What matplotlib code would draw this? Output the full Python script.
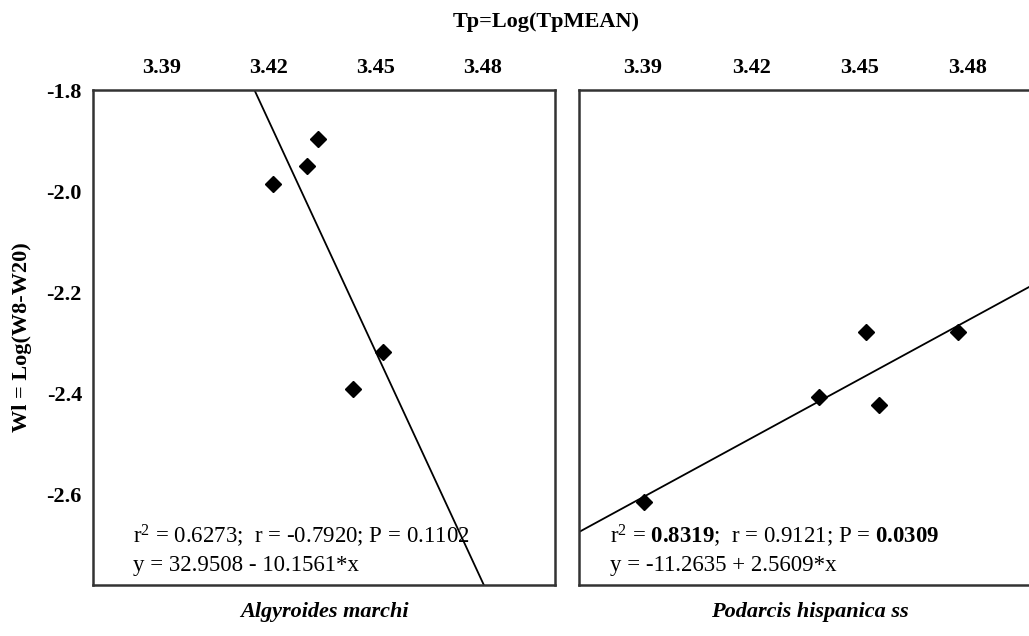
import numpy as np
import matplotlib
matplotlib.use("Agg")
import matplotlib.pyplot as plt

# Datos
x_alg = [3.4211, 3.4307, 3.4337, 3.4436, 3.4520]
y_alg = [-1.986, -1.950, -1.897, -2.392, -2.319]
x_pod = [3.3903, 3.4388, 3.4517, 3.4553, 3.4772]
y_pod = [-2.616, -2.408, -2.279, -2.424, -2.279]

xticks = [3.39, 3.42, 3.45, 3.48]
yticks = [-1.8, -2.0, -2.2, -2.4, -2.6]

species = ["Algyroides marchi", "Podarcis hispanica ss"]
stats = [r"$\mathrm{r}^2$ = 0.6273;  r = -0.7920; P = 0.1102",
         r"$\mathrm{r}^2$ = $\mathbf{0.8319}$;  r = 0.9121; P = $\mathbf{0.0309}$"]
eqs = ["y = 32.9508 - 10.1561*x", "y = -11.2635 + 2.5609*x"]

plt.rcParams['font.family'] = 'Liberation Serif'
plt.rcParams['mathtext.fontset'] = 'custom'
plt.rcParams['mathtext.rm'] = 'Liberation Serif'
plt.rcParams['mathtext.it'] = 'Liberation Serif:italic'
plt.rcParams['mathtext.bf'] = 'Liberation Serif:bold'

fig = plt.figure(figsize=(10.29, 6.36), dpi=100)

def panel(rect, xs, ys, xlim, stat, eq, name, text_x, show_y):
    ax = fig.add_axes(rect)
    ax.plot(xs, ys, linestyle='none', marker='D', color='black', markersize=8.5)

    # Recta de regresion
    m, b = np.polyfit(xs, ys, 1)
    xl = np.array([3.30, 3.60])
    ax.plot(xl, m * xl + b, color='black', linewidth=1.3)

    ax.set_xlim(xlim)
    ax.set_ylim(-2.78, -1.8)
    ax.xaxis.tick_top()
    ax.set_xticks(xticks)
    ax.set_xticklabels([f"{t:.2f}" for t in xticks], fontweight='bold', fontsize=16)
    ax.set_yticks(yticks)
    if show_y:
        ax.set_yticklabels([f"{t:.1f}" for t in yticks], fontweight='bold', fontsize=16)
    else:
        ax.set_yticklabels([])
    ax.tick_params(axis='x', length=0, pad=9)
    ax.tick_params(axis='y', length=0, pad=8)
    for s in ax.spines.values():
        s.set_linewidth(1.8)
        s.set_color('#333333')

    ax.text(text_x, 0.10, stat, transform=ax.transAxes, fontsize=16.5, va='center')
    ax.text(text_x, 0.04, eq, transform=ax.transAxes, fontsize=16.5, va='center')
    ax.text(0.5, -0.035, name, transform=ax.transAxes, fontsize=16, fontweight='bold',
            fontstyle='italic', ha='center', va='top')
    return ax

panel([0.0904, 0.0802, 0.449, 0.778], x_alg, y_alg, (3.3707, 3.5002),
      stats[0], eqs[0], species[0], 0.087, True)
panel([0.5627, 0.0802, 0.449, 0.778], x_pod, y_pod, (3.3723, 3.5003),
      stats[1], eqs[1], species[1], 0.067, False)

fig.text(0.531, 0.965, "Tp=Log(TpMEAN)", fontsize=16, fontweight='bold', ha='center', va='center')
fig.text(0.021, 0.47, "Wl = Log(W8-W20)", fontsize=16, fontweight='bold', rotation=90,
         ha='center', va='center')

fig.savefig("out.png", dpi=100)
